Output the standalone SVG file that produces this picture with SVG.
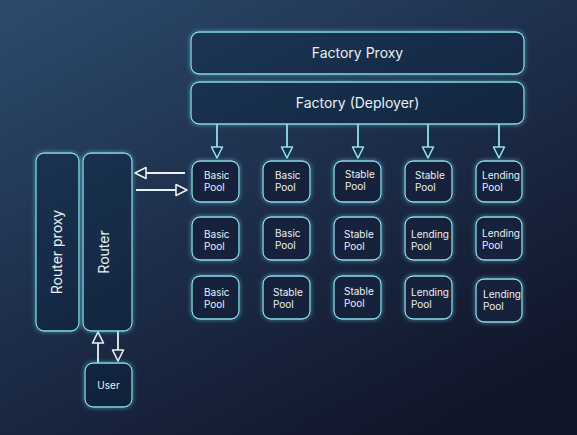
<svg xmlns="http://www.w3.org/2000/svg" width="577" height="435" viewBox="0 0 577 435">
<defs>
<linearGradient id="bg" x1="0" y1="0" x2="0.7" y2="1">
<stop offset="0" stop-color="#2c4b6c"/>
<stop offset="0.55" stop-color="#1c2c48"/>
<stop offset="1" stop-color="#11162a"/>
</linearGradient>
<filter id="glow" x="-30%" y="-30%" width="160%" height="160%">
<feColorMatrix in="SourceAlpha" type="matrix" values="0 0 0 0 0  0 0 0 0 0  0 0 0 0 0  0 0 0 20 0" result="solid"/>
<feGaussianBlur in="solid" stdDeviation="2.2" result="b"/>
<feFlood flood-color="#5fd0e6" flood-opacity="0.55"/>
<feComposite in2="b" operator="in" result="g"/>
<feComposite in="g" in2="solid" operator="out" result="g2"/>
<feMerge><feMergeNode in="g2"/><feMergeNode in="SourceGraphic"/></feMerge>
</filter>
<marker id="tri" viewBox="0 0 14 14" refX="12" refY="7" markerWidth="14" markerHeight="14" markerUnits="userSpaceOnUse" orient="auto">
<path d="M1,1.5 L12,7 L1,12.5 Z" fill="#1d2c46" stroke="#e6f2f6" stroke-width="1.6" stroke-linejoin="round"/>
</marker>
<marker id="triC" viewBox="0 0 14 14" refX="12" refY="7" markerWidth="14" markerHeight="14" markerUnits="userSpaceOnUse" orient="auto">
<path d="M1,1.5 L12,7 L1,12.5 Z" fill="#1d2c46" stroke="#8ee0ee" stroke-width="1.6" stroke-linejoin="round"/>
</marker>
</defs>
<style>
.box{fill:#12203a;fill-opacity:0.3;stroke:#86dbe9;stroke-width:1.3;filter:url(#glow)}
.pool{fill:#15203a;stroke:#8fe0ee;stroke-width:1.3;filter:url(#glow)}
.t{font-family:Inter,"Noto Sans","DejaVu Sans",sans-serif;fill:#e9f0f5}
.big{font-size:14px;text-anchor:middle}
.pt{font-size:10px}
.ar{stroke:#e6f2f6;stroke-width:1.8;fill:none;marker-end:url(#tri)}
.arc{stroke:#8ee0ee;stroke-width:1.8;fill:none;marker-end:url(#triC)}
</style>
<rect width="577" height="435" fill="url(#bg)"/>

<g id="connectors">
<line class="arc" x1="217" y1="124" x2="217" y2="158"/>
<line class="arc" x1="287" y1="124" x2="287" y2="158"/>
<line class="arc" x1="358" y1="124" x2="358" y2="158"/>
<line class="arc" x1="428" y1="124" x2="428" y2="158"/>
<line class="arc" x1="499" y1="124" x2="499" y2="158"/>
<line class="ar" x1="185" y1="173" x2="135" y2="173"/>
<line class="ar" x1="136" y1="190" x2="187" y2="190"/>
<line class="ar" x1="98" y1="363" x2="98" y2="332"/>
<line class="ar" x1="118" y1="331" x2="118" y2="361"/>
</g>

<g id="factory-proxy">
<rect class="box" x="191" y="32" width="333" height="42" rx="8"/>
<text class="t big" x="357.5" y="58">Factory Proxy</text>
</g>
<g id="factory-deployer">
<rect class="box" x="191" y="82" width="333" height="42" rx="8"/>
<text class="t big" x="357.5" y="108">Factory (Deployer)</text>
</g>

<g id="router-proxy">
<rect class="box" x="36" y="153" width="43" height="178" rx="8"/>
<text class="t big" transform="translate(62,252) rotate(-90)" x="0" y="0">Router proxy</text>
</g>
<g id="router">
<rect class="box" x="83" y="153" width="49" height="178" rx="8"/>
<text class="t big" transform="translate(109,252) rotate(-90)" x="0" y="0">Router</text>
</g>
<g id="user">
<rect class="box" x="85" y="363" width="47" height="44" rx="8"/>
<text class="t" x="108.5" y="389" font-size="10" text-anchor="middle">User</text>
</g>

<g id="pool-1-1"><rect class="pool" x="192" y="161" width="47" height="41" rx="8"/><text class="t pt" x="204" y="179">Basic</text><text class="t pt" x="204" y="191">Pool</text></g>
<g id="pool-1-2"><rect class="pool" x="263" y="161" width="47" height="41" rx="8"/><text class="t pt" x="275" y="179">Basic</text><text class="t pt" x="275" y="191">Pool</text></g>
<g id="pool-1-3"><rect class="pool" x="334" y="161" width="47" height="41" rx="8"/><text class="t pt" x="345" y="178">Stable</text><text class="t pt" x="345" y="190">Pool</text></g>
<g id="pool-1-4"><rect class="pool" x="405" y="161" width="47" height="41" rx="8"/><text class="t pt" x="415" y="179">Stable</text><text class="t pt" x="415" y="191">Pool</text></g>
<g id="pool-1-5"><rect class="pool" x="476" y="161" width="46" height="41" rx="8"/><text class="t pt" x="482" y="179">Lending</text><text class="t pt" x="482" y="191">Pool</text></g>

<g id="pool-2-1"><rect class="pool" x="192" y="217" width="47" height="43" rx="8"/><text class="t pt" x="204" y="238">Basic</text><text class="t pt" x="204" y="250">Pool</text></g>
<g id="pool-2-2"><rect class="pool" x="263" y="217" width="47" height="43" rx="8"/><text class="t pt" x="275" y="237">Basic</text><text class="t pt" x="275" y="249">Pool</text></g>
<g id="pool-2-3"><rect class="pool" x="334" y="217" width="47" height="43" rx="8"/><text class="t pt" x="344" y="238">Stable</text><text class="t pt" x="344" y="250">Pool</text></g>
<g id="pool-2-4"><rect class="pool" x="405" y="217" width="47" height="43" rx="8"/><text class="t pt" x="411" y="238">Lending</text><text class="t pt" x="411" y="250">Pool</text></g>
<g id="pool-2-5"><rect class="pool" x="476" y="217" width="46" height="43" rx="8"/><text class="t pt" x="482" y="237">Lending</text><text class="t pt" x="482" y="249">Pool</text></g>

<g id="pool-3-1"><rect class="pool" x="192" y="276" width="47" height="43" rx="8"/><text class="t pt" x="204" y="296">Basic</text><text class="t pt" x="204" y="308">Pool</text></g>
<g id="pool-3-2"><rect class="pool" x="263" y="276" width="47" height="43" rx="8"/><text class="t pt" x="273" y="296">Stable</text><text class="t pt" x="273" y="308">Pool</text></g>
<g id="pool-3-3"><rect class="pool" x="334" y="276" width="47" height="43" rx="8"/><text class="t pt" x="344" y="295">Stable</text><text class="t pt" x="344" y="307">Pool</text></g>
<g id="pool-3-4"><rect class="pool" x="405" y="276" width="47" height="43" rx="8"/><text class="t pt" x="411" y="296">Lending</text><text class="t pt" x="411" y="308">Pool</text></g>
<g id="pool-3-5"><rect class="pool" x="476" y="279" width="46" height="43" rx="8"/><text class="t pt" x="483" y="298">Lending</text><text class="t pt" x="483" y="310">Pool</text></g>
</svg>
